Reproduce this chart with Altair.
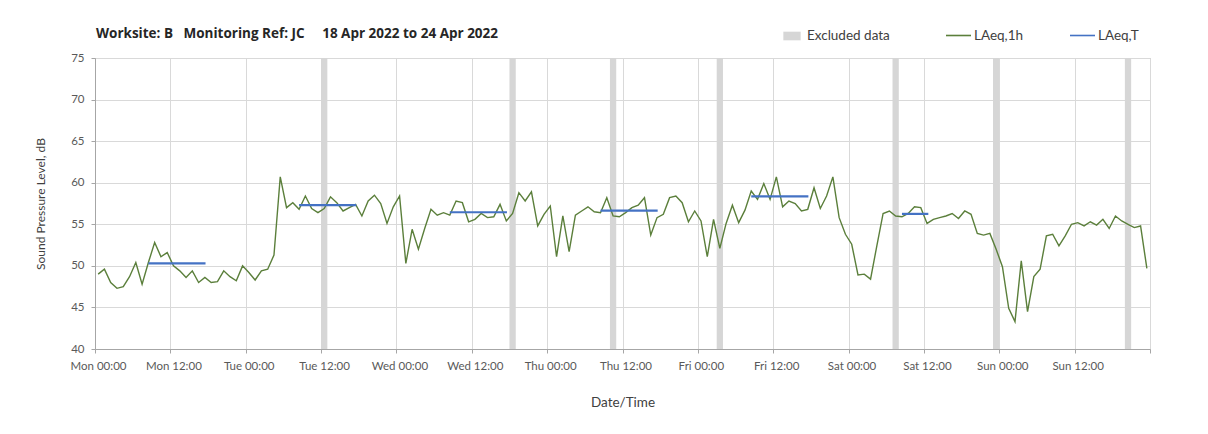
import altair as alt
import pandas as pd
from datetime import datetime, timedelta, timezone

# ---------------- data ----------------
START = datetime(2022, 4, 18, tzinfo=timezone.utc)  # Mon 18 Apr 2022 00:00


def ms(hours):
    return int((START + timedelta(hours=hours)).timestamp() * 1000)


# hourly LAeq,1h values (each hour plotted at its mid point), Mon 00:00 -> Sun 24:00
laeq_1h = [
    49.0, 49.6, 48.0, 47.3, 47.5, 48.7, 50.4, 47.8, 50.4, 52.8, 51.1, 51.6,
    50.0, 49.4, 48.6, 49.4, 48.0, 48.6, 48.0, 48.1, 49.4, 48.7, 48.2, 50.0,
    49.2, 48.3, 49.4, 49.6, 51.3, 60.7, 57.0, 57.6, 56.8, 58.4, 56.9, 56.4,
    56.9, 58.3, 57.6, 56.6, 57.0, 57.4, 56.0, 57.8, 58.5, 57.5, 55.1, 57.1,
    58.4, 50.3, 54.4, 52.0, 54.5, 56.8, 56.1, 56.4, 56.1, 57.8, 57.6, 55.3,
    55.6, 56.3, 55.8, 55.9, 57.4, 55.4, 56.3, 58.8, 57.8, 58.9, 54.8, 56.2,
    57.2, 51.1, 56.0, 51.7, 56.1, 56.6, 57.1, 56.5, 56.4, 58.2, 56.0, 55.9,
    56.4, 57.0, 57.3, 58.2, 53.7, 55.8, 56.2, 58.2, 58.4, 57.6, 55.3, 56.6,
    55.4, 51.1, 55.6, 52.1, 55.1, 57.3, 55.2, 56.7, 59.0, 58.0, 59.9, 58.0,
    60.7, 57.1, 57.8, 57.5, 56.6, 56.8, 59.4, 56.9, 58.4, 60.7, 55.8, 53.8,
    52.6, 48.9, 49.0, 48.4, 52.4, 56.3, 56.6, 56.0, 55.9, 56.3, 57.1, 57.0,
    55.1, 55.6, 55.8, 56.0, 56.3, 55.7, 56.6, 56.2, 53.9, 53.7, 53.9, 52.0,
    49.9, 44.9, 43.3, 50.6, 44.5, 48.7, 49.6, 53.6, 53.8, 52.4, 53.6, 55.0,
    55.2, 54.8, 55.3, 54.9, 55.6, 54.5, 56.0, 55.4, 55.0, 54.6, 54.8, 49.7,
]

# excluded hours (hour index from Mon 00:00, each one hour long)
excluded_hours = [36, 66, 82, 99, 127, 143, 164]

# LAeq,T periods (hours from Mon 00:00) and levels
period_start = [8.5, 32.5, 56.5, 80.5, 104.5, 128.5]
period_end = [17.6, 41.6, 65.6, 89.6, 113.6, 132.7]
laeq_T = [50.3, 57.3, 56.45, 56.65, 58.35, 56.25]

y_ticks = [40, 45, 50, 55, 60, 65, 70, 75]
x_tick_hours = list(range(0, 169, 12))

# ---------------- tables ----------------
line_df = pd.DataFrame({
    "t": [ms(k + 0.5) for k in range(len(laeq_1h))],
    "v": laeq_1h,
    "s": "LAeq,1h",
})
excl_df = pd.DataFrame({
    "t": [ms(h) for h in excluded_hours],
    "t2": [ms(h + 1) for h in excluded_hours],
    "s": "Excluded data",
})
per_df = pd.DataFrame({
    "t": [ms(h) for h in period_start],
    "t2": [ms(h) for h in period_end],
    "v": laeq_T,
    "s": "LAeq,T",
})

FONT = "Lato"
GREEN = "#5b7f3b"
BLUE = "#4472c4"
GREY_BAND = "#d6d6d6"

x_scale = alt.Scale(type="utc", domain=[ms(0), ms(168)], nice=False)
y_scale = alt.Scale(domain=[40, 75], nice=False, zero=False)

x_axis = alt.Axis(
    values=[ms(h) for h in x_tick_hours],
    labelExpr=f"datum.value >= {ms(168)} ? '' : utcFormat(datum.value, '%a %H:%M')",
    labelOverlap=False,
    labelFlush=False,
    labelOffset=3,
    title="Date/Time",
    titleFontSize=13.5,
    titlePadding=24,
    labelPadding=7,
    grid=True,
)
y_axis = alt.Axis(
    values=y_ticks,
    title="Sound Pressure Level, dB",
    titleFontSize=12,
    titlePadding=23,
    labelPadding=7,
    grid=True,
)

stroke_scale = alt.Scale(domain=["LAeq,1h", "LAeq,T"], range=[GREEN, BLUE])

bands = alt.Chart(excl_df).mark_rect(color=GREY_BAND).encode(
    x=alt.X("t:T", scale=x_scale, axis=x_axis),
    x2="t2:T",
    fill=alt.Fill(
        "s:N",
        scale=alt.Scale(domain=["Excluded data"], range=[GREY_BAND]),
        legend=alt.Legend(
            title=None, orient="none", legendX=688, legendY=-31,
            symbolType="M-1,-0.5H1V0.5H-1Z", symbolSize=300,
            symbolStrokeWidth=0, labelFontSize=13.5, labelFont=FONT,
            labelColor="#404040", padding=0, labelOffset=6,
        ),
    ),
)

line = alt.Chart(line_df).mark_line(strokeWidth=1.4).encode(
    x=alt.X("t:T", scale=x_scale, axis=x_axis),
    y=alt.Y("v:Q", scale=y_scale, axis=y_axis),
    stroke=alt.Stroke(
        "s:N", scale=stroke_scale,
        legend=alt.Legend(
            title=None, orient="none", direction="horizontal",
            legendX=850, legendY=-36, symbolType="stroke", symbolSize=625,
            symbolStrokeWidth=1.6, labelFontSize=13.5, labelFont=FONT,
            labelColor="#404040", padding=0, labelOffset=2,
            columnPadding=42,
        ),
    ),
)

periods = alt.Chart(per_df).mark_rule(strokeWidth=2.2).encode(
    x=alt.X("t:T", scale=x_scale, axis=x_axis),
    x2="t2:T",
    y=alt.Y("v:Q", scale=y_scale, axis=y_axis),
    stroke=alt.Stroke("s:N", scale=stroke_scale),
)

chart = (
    alt.layer(bands, line, periods)
    .properties(
        width=1055,
        height=291,
        background="white",
        autosize=alt.AutoSizeParams(type="none"),
        padding={"left": 87, "top": 50, "right": 50, "bottom": 77},
        title=alt.TitleParams(
            text="Worksite: B\u00a0\u00a0\u00a0Monitoring Ref: JC\u00a0\u00a0\u00a0\u00a0\u00a018 Apr 2022 to 24 Apr 2022",
            anchor="start",
            frame="group",
            font="Open Sans",
            fontSize=13.5,
            fontWeight="bold",
            color="#262626",
            offset=20,
            dx=1,
            dy=38,
        ),
    )
    .configure_view(stroke="#bfbfbf", strokeWidth=1)
    .configure_axis(
        labelFont=FONT,
        titleFont=FONT,
        labelFontSize=11.5,
        titleFontWeight="normal",
        labelColor="#595959",
        titleColor="#404040",
        gridColor="#d9d9d9",
        gridWidth=1,
        domainColor="#a6a6a6",
        tickColor="#a6a6a6",
        tickSize=4,
    )
)

chart.save("out.html", embed_options={"renderer": "svg", "actions": False})
